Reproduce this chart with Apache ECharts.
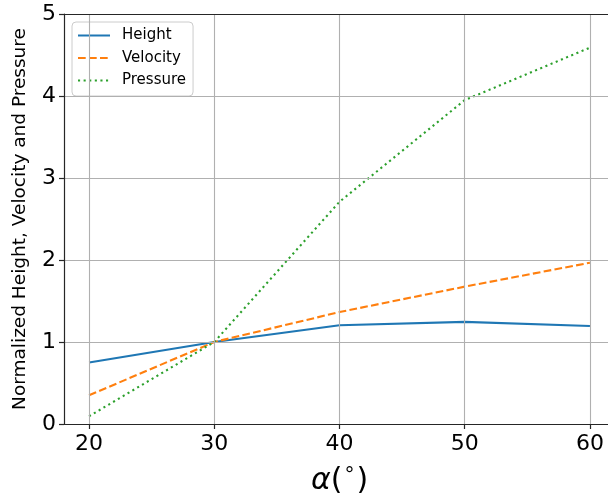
<!DOCTYPE html>
<html><head><meta charset="utf-8">
<script src="https://cdn.jsdelivr.net/npm/echarts@6/dist/echarts.min.js"></script>
<style>html,body{margin:0;padding:0;background:#fff}#c{width:608px;height:495px}</style>
</head><body><div id="c"></div>
<script>
const alphas = [20, 30, 40, 50, 60];
const heightVals = [0.75, 1.0, 1.205, 1.245, 1.195];
const velocityVals = [0.35, 1.0, 1.365, 1.675, 1.967];
const pressureVals = [0.094, 1.0, 2.71, 3.95, 4.59];
const seriesNames = ['Height', 'Velocity', 'Pressure'];
const xTicks = [20, 30, 40, 50, 60];
const yTicks = [0, 1, 2, 3, 4, 5];

const font = 'DejaVu Sans';
const spine = {show: true, onZero: false, lineStyle: {color: '#262626', width: 1.2}};
const pairs = v => alphas.map((a, i) => [a, v[i]]);
const chart = echarts.init(document.getElementById('c'), null, {renderer: 'canvas'});
chart.setOption({
  animation: false,
  backgroundColor: '#fff',
  textStyle: {fontFamily: font},
  grid: [
    {left: 64, top: 14, width: 551, height: 410, show: false, outerBoundsMode: 'none', containLabel: false},
    {left: 89.04, top: 14, width: 500.92, height: 410, show: false, outerBoundsMode: 'none', containLabel: false}
  ],
  xAxis: [
    {type: 'value', gridIndex: 0, min: 18, max: 62, position: 'bottom', z: 5,
     axisLine: spine, axisTick: {show: false}, axisLabel: {show: false}, splitLine: {show: false}},
    {type: 'value', gridIndex: 1, min: xTicks[0], max: xTicks[xTicks.length - 1], interval: 10, z: 5,
     axisLine: spine,
     axisTick: {show: true, inside: false, length: 5, lineStyle: {color: '#262626', width: 1.2}},
     axisLabel: {fontSize: 22, color: '#000', margin: 9, fontFamily: font},
     splitLine: {show: true, lineStyle: {color: '#b0b0b0', width: 1.1}},
     name: '{a|α}{p|(}{d|°}{p|)}', nameLocation: 'middle', nameGap: 42,
     nameTextStyle: {rich: {
       a: {fontSize: 30, fontStyle: 'italic', fontFamily: font, color: '#000'},
       p: {fontSize: 30, fontFamily: font, color: '#000'},
       d: {fontSize: 20, fontFamily: font, color: '#000', verticalAlign: 'top', padding: [0, 2, 8, 2]}
     }}},
    {type: 'value', gridIndex: 0, min: 18, max: 62, position: 'top', z: 5,
     axisLine: spine, axisTick: {show: false}, axisLabel: {show: false}, splitLine: {show: false}}
  ],
  yAxis: [
    {type: 'value', gridIndex: 0, min: yTicks[0], max: yTicks[yTicks.length - 1], interval: 1, z: 5,
     axisLine: spine,
     axisTick: {show: true, inside: false, length: 5, lineStyle: {color: '#262626', width: 1.2}},
     axisLabel: {fontSize: 22, color: '#000', margin: 8, fontFamily: font},
     splitLine: {show: true, lineStyle: {color: '#b0b0b0', width: 1.1}},
     name: 'Normalized Height, Velocity and Pressure', nameLocation: 'middle', nameGap: 34,
     nameTextStyle: {fontSize: 18.5, color: '#000', fontFamily: font}},
    {type: 'value', gridIndex: 1, min: 0, max: 5, show: false}
  ],
  legend: {
    left: 72, top: 22, orient: 'vertical', itemWidth: 32, itemHeight: 14, itemGap: 7.5,
    padding: [6, 7, 8, 5],
    backgroundColor: 'rgba(255,255,255,0.8)', borderColor: '#cccccc', borderWidth: 1, borderRadius: 4,
    itemStyle: {opacity: 0},
    textStyle: {fontSize: 15, lineHeight: 15, color: '#000', fontFamily: font, padding: [0, 0, 0, 7]},
    data: seriesNames
  },
  series: [
    {name: seriesNames[0], type: 'line', data: pairs(heightVals), symbol: 'none',
     lineStyle: {color: '#1f77b4', width: 2.1, type: 'solid'}, itemStyle: {color: '#1f77b4'}},
    {name: seriesNames[1], type: 'line', data: pairs(velocityVals), symbol: 'none',
     lineStyle: {color: '#ff7f0e', width: 2.1, type: [7.7, 3.3]}, itemStyle: {color: '#ff7f0e'}},
    {name: seriesNames[2], type: 'line', data: pairs(pressureVals), symbol: 'none',
     lineStyle: {color: '#2ca02c', width: 2.1, type: [2.1, 3.5]}, itemStyle: {color: '#2ca02c'}}
  ]
});
</script></body></html>
